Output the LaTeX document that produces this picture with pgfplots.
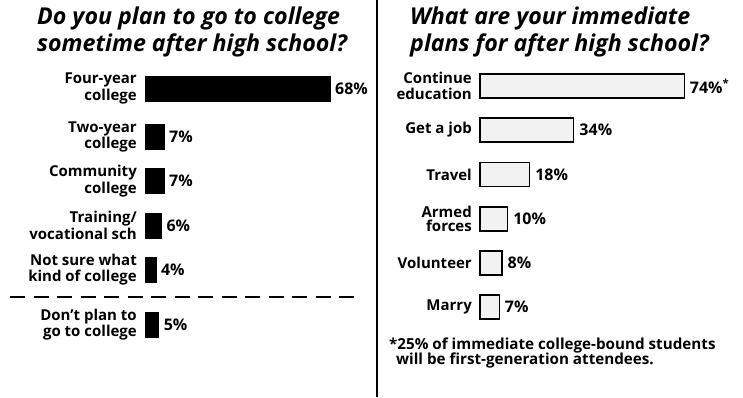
\documentclass[border=0pt]{standalone}
\usepackage{pgfplots}
\pgfplotsset{compat=1.18}
\usepackage{fontspec}
\setmainfont{Open Sans}
\newcommand\titlef{\fontsize{23.2}{27}\selectfont\bfseries\itshape}
\newcommand\labf{\fontsize{15}{16.5}\selectfont\bfseries}
\newcommand\valf{\fontsize{16}{17}\selectfont\bfseries}
\newcommand\footf{\fontsize{15.2}{15}\selectfont\bfseries}
\begin{document}
\begin{tikzpicture}[x=1pt,y=1pt]
\path[use as bounding box] (0,0) rectangle (743,397);
% separator and dashed divider
\draw[line width=2pt] (377,0) -- (377,397);
\draw[line width=2.5pt, dash pattern=on 15pt off 8.5pt] (10,100) -- (356,100);
% titles
\node[anchor=base west, inner sep=0pt, font=\titlef] at (37,372) {Do you plan to go to college};
\node[anchor=base west, inner sep=0pt, font=\titlef] at (37,345) {sometime after high school?};
\node[anchor=base west, inner sep=0pt, font=\titlef] at (410,372) {What are your immediate};
\node[anchor=base west, inner sep=0pt, font=\titlef] at (410,345) {plans for after high school?};
% footnote
\node[anchor=base west, inner sep=0pt, font=\footf] at (389,48) {*25\% of immediate college-bound students};
\node[anchor=base west, inner sep=0pt, font=\footf] at (396,33) {will be first-generation attendees.};
% left chart
\begin{axis}[
  at={(145pt,0pt)}, anchor=south west,
  scale only axis, width=217.6pt, height=397pt,
  xbar, xmin=0, xmax=80, ymin=0, ymax=397, y dir=reverse,
  enlargelimits=false, clip=false,
  axis line style={draw=none}, xtick=\empty,
  ytick={88.5,137,181,225.5,269.5,324.5},
  yticklabels={{Four-year\\college},{Two-year\\college},{Community\\college},{Training/\\vocational sch},{Not sure what\\kind of college},{Don’t plan to\\go to college}},
  yticklabel style={align=right, font=\labf, inner sep=0pt, xshift=-8pt},
  major tick length=0pt, ytick style={draw=none},
  bar width=25,
  point meta=explicit symbolic,
  nodes near coords,
  nodes near coords style={anchor=west, font=\valf, inner sep=0pt, xshift=5pt},
]
\addplot[fill=black, draw=black] coordinates {
(68,88.5) [68\%]
(7,137) [7\%]
(7,181) [7\%]
(6,225.5) [6\%]
(4,269.5) [4\%]
(5,324.5) [5\%]
};
\end{axis}
% right chart
\begin{axis}[
  at={(480pt,0pt)}, anchor=south west,
  scale only axis, width=248.4pt, height=397pt,
  xbar, xmin=0, xmax=90, ymin=0, ymax=397, y dir=reverse,
  enlargelimits=false, clip=false,
  axis line style={draw=none}, xtick=\empty,
  ytick={86,130,174.5,219,263,307},
  yticklabels={{Continue\\education},{Get a job},{Travel},{Armed\\[-2.5pt]forces},{Volunteer},{Marry}},
  yticklabel style={align=right, font=\labf, inner sep=0pt, xshift=-8pt},
  major tick length=0pt, ytick style={draw=none},
  bar width=24,
  point meta=explicit symbolic,
  nodes near coords,
  nodes near coords style={anchor=west, font=\valf, inner sep=0pt, xshift=5pt},
]
\addplot[fill=black!5, draw=black, line width=1.3pt] coordinates {
(74,86) [74\%\textsuperscript{*}]
(34,130) [34\%]
(18,174.5) [18\%]
(10,219) [10\%]
(8,263) [8\%]
(7,307) [7\%]
};
\end{axis}
\end{tikzpicture}
\end{document}
